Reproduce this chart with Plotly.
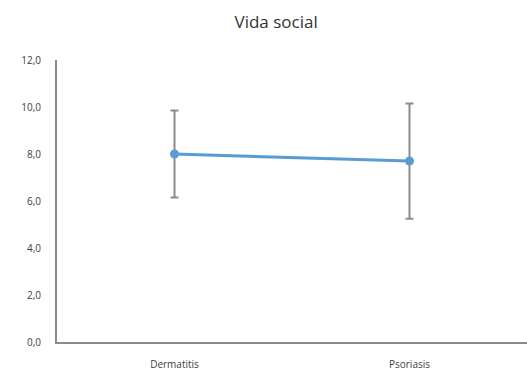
import plotly.graph_objects as go

categories = ["Dermatitis", "Psoriasis"]
means = [8.0, 7.7]
errors = [1.85, 2.45]
y_ticks = [0, 2, 4, 6, 8, 10, 12]

fig = go.Figure()
fig.add_trace(go.Scatter(
    x=categories,
    y=means,
    mode="lines+markers",
    line=dict(color="#5b9bd5", width=3),
    marker=dict(color="#5b9bd5", size=9),
    error_y=dict(type="data", array=errors, visible=True,
                 color="#8c8c8c", thickness=2, width=4),
    showlegend=False,
))

fig.update_layout(
    width=527, height=372,
    margin=dict(l=57, r=0, t=60, b=30),
    paper_bgcolor="white", plot_bgcolor="white",
    separators=",.",
    font=dict(family="Open Sans, Liberation Sans, sans-serif", color="#404040"),
    title=dict(text="Vida social", x=0.524, xanchor="center", y=0.94, yanchor="middle",
               font=dict(size=17, color="#333333")),
)
fig.update_xaxes(
    type="category", range=[-0.5, 1.5],
    showline=True, linecolor="#8c8c8c", linewidth=2,
    showgrid=False, zeroline=False, ticks="",
    tickfont=dict(size=10, color="#404040"), ticklabelstandoff=12,
)
fig.update_yaxes(
    range=[0, 12], tickvals=y_ticks, tickformat=".1f",
    showline=True, linecolor="#8c8c8c", linewidth=2,
    showgrid=False, zeroline=False, ticks="",
    tickfont=dict(size=10, color="#404040"), ticklabelstandoff=12,
)

fig.write_html("out.html")
